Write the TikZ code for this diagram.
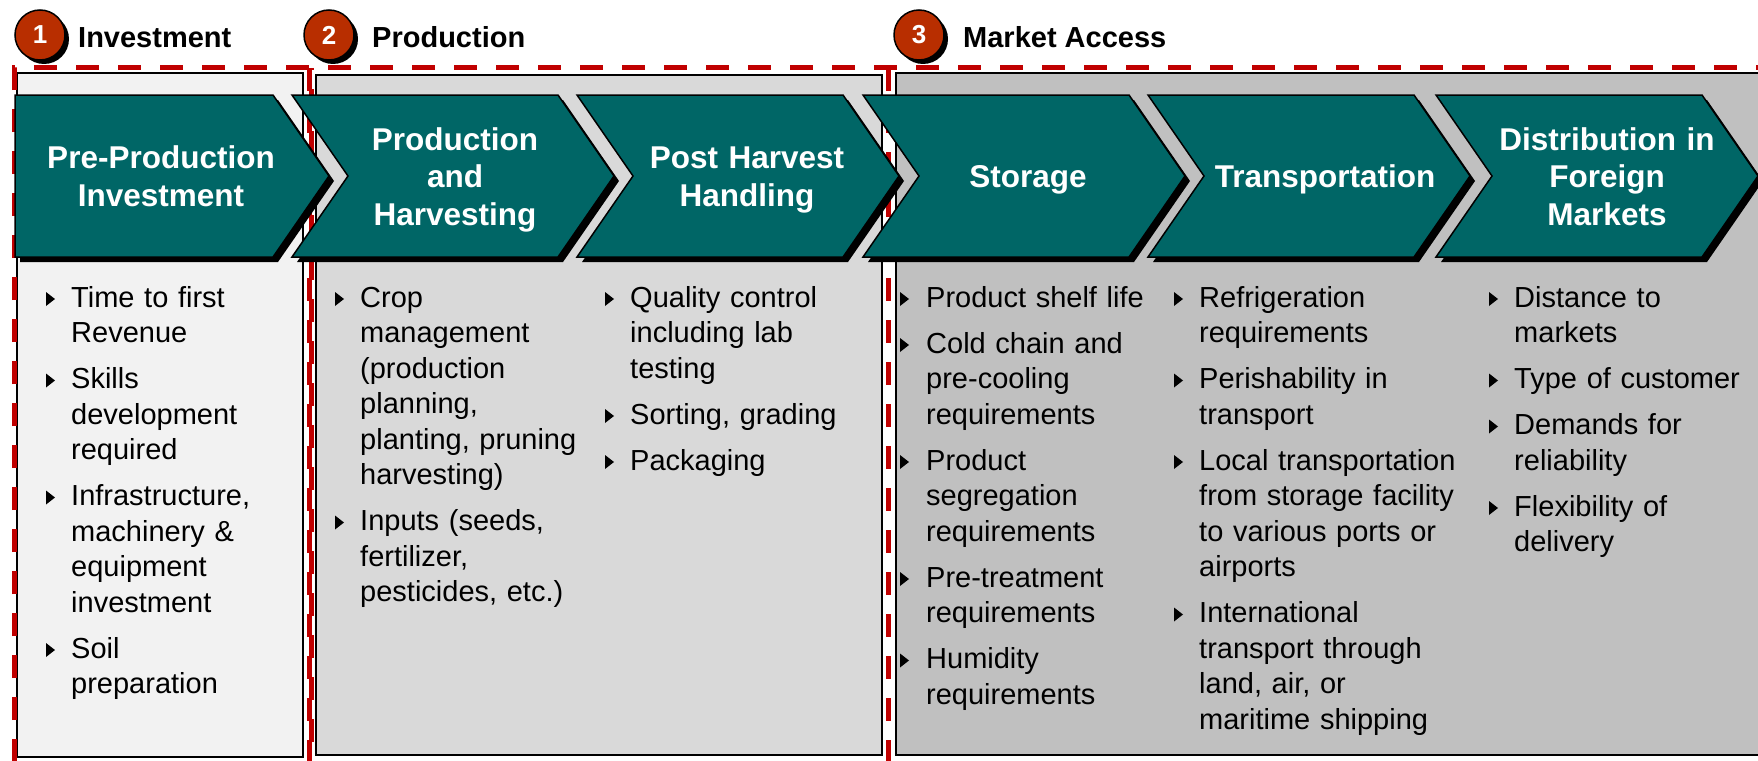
\documentclass[tikz,border=0pt]{standalone}
\usepackage{fontspec}
\setmainfont{Liberation Sans}
\usetikzlibrary{positioning}

\definecolor{chevteal}{RGB}{0,102,102}
\definecolor{badgered}{RGB}{184,46,0}
\definecolor{framered}{RGB}{192,0,0}
\definecolor{boxone}{RGB}{242,242,242}
\definecolor{boxtwo}{RGB}{217,217,217}
\definecolor{boxthree}{RGB}{192,192,192}

\tikzset{
  stagebox/.style={draw=black, line width=2pt},
  redframe/.style={draw=framered, line width=5pt, dash pattern=on 23pt off 19pt},
  chevron/.style={fill=chevteal, draw=black, line width=1.5pt, line join=miter},
  chevtext/.style={text=white, font=\bfseries\fontsize{31.5}{37.5}\selectfont,
    align=center, text width=260pt, inner sep=0pt, anchor=base},
  listtext/.style={font=\fontsize{29}{35.5}\selectfont, align=left,
    text width=280pt, inner sep=0pt, anchor=base west},
  badge/.style={circle, fill=badgered, draw=black, line width=1.5pt,
    minimum size=50pt, inner sep=0pt, text=white, font=\bfseries\fontsize{26}{30}\selectfont},
  headtext/.style={font=\bfseries\fontsize{29}{34}\selectfont, anchor=base west, inner sep=0pt},
}

\begin{document}
\begin{tikzpicture}[x=1pt, y=-1pt]
  \useasboundingbox (0,0) rectangle (1758,760);
  \clip (0,0) rectangle (1758,760);

  % stage panels
  \filldraw[stagebox, fill=boxone] (17,73) rectangle (303,757);
  \filldraw[stagebox, fill=boxtwo] (316,75) rectangle (882,755);
  \filldraw[stagebox, fill=boxthree] (896,73) rectangle (1775,755);

  % dashed red frames
  \draw[redframe] (14,762) -- (14,68) -- (1775,68);
  \draw[redframe] (309,68) -- (309,762);
  \draw[redframe, dash phase=21pt] (311.5,68) -- (311.5,762);
  \draw[redframe] (888,68) -- (888,762);
  \draw[redframe] (14,763) -- (1775,763);

  % chevrons
  \fill[black] (20,100) -- (278,100) -- (334,181) -- (278,262) -- (20,262) -- cycle;
  \draw[chevron] (15,95) -- (273,95) -- (329,176) -- (273,257) -- (15,257) -- cycle;
  \foreach \x in {292,577,863,1148,1436}{
    \fill[black] (\x+5,100) -- ++(266,0) -- ++(56,81) -- ++(-56,81) -- ++(-266,0) -- ++(56,-81) -- cycle;
    \draw[chevron] (\x,95) -- ++(266,0) -- ++(56,81) -- ++(-56,81) -- ++(-266,0) -- ++(56,-81) -- cycle;
  }

  \node[chevtext] (preinv) at (161,168.75) {Pre-Production\\Investment};
  \node[chevtext] (prodharv) at (455,150) {Production\\and\\Harvesting};
  \node[chevtext] (postharv) at (747,168.75) {Post Harvest\\Handling};
  \node[chevtext] (storage) at (1028,187.5) {Storage};
  \node[chevtext] (transport) at (1325,187.5) {Transportation};
  \node[chevtext] (distrib) at (1607,150) {Distribution in\\Foreign\\Markets};

  % badges and headings
  \foreach \bx in {40,329,919}
    \fill[black] (\bx+4,39) circle (25pt);
  \node[badge] (b1) at (40,35) {1};
  \node[badge] (b2) at (329,35) {2};
  \node[badge] (b3) at (919,35) {3};
  \node[headtext] (h1) at (78,48) {Investment};
  \node[headtext] (h2) at (372,48) {Production};
  \node[headtext] (h3) at (963,48) {Market Access};

  % bullet lists
  \node[listtext] (l1) at (71,307) {Time to first\\Revenue\\[10.5pt]
    Skills\\development\\required\\[10.5pt]
    Infrastructure,\\machinery \&\\equipment\\investment\\[10.5pt]
    Soil\\preparation};
  \node[listtext] (l2) at (360,307) {Crop\\management\\(production\\planning,\\planting, pruning\\harvesting)\\[10.5pt]
    Inputs (seeds,\\fertilizer,\\pesticides, etc.)};
  \node[listtext] (l3) at (630,307) {Quality control\\including lab\\testing\\[10.5pt]
    Sorting, grading\\[10.5pt]
    Packaging};
  \node[listtext] (l4) at (926,307) {Product shelf life\\[10.5pt]
    Cold chain and\\pre-cooling\\requirements\\[10.5pt]
    Product\\segregation\\requirements\\[10.5pt]
    Pre-treatment\\requirements\\[10.5pt]
    Humidity\\requirements};
  \node[listtext] (l5) at (1199,307) {Refrigeration\\requirements\\[10.5pt]
    Perishability in\\transport\\[10.5pt]
    Local transportation\\from storage facility\\to various ports or\\airports\\[10.5pt]
    International\\transport through\\land, air, or\\maritime shipping};
  \node[listtext] (l6) at (1514,307) {Distance to\\markets\\[10.5pt]
    Type of customer\\[10.5pt]
    Demands for\\reliability\\[10.5pt]
    Flexibility of\\delivery};

  % bullet marks: column x / line / item
  \foreach \bx/\L/\k in {46/0/0, 46/2/1, 46/5/2, 46/9/3,
                         335/0/0, 335/6/1,
                         605/0/0, 605/3/1, 605/4/2,
                         900/0/0, 900/1/1, 900/4/2, 900/7/3, 900/9/4,
                         1174/0/0, 1174/2/1, 1174/4/2, 1174/8/3,
                         1489/0/0, 1489/2/1, 1489/3/2, 1489/5/3}
    \fill (\bx,307+35.5*\L+10.5*\k-15) -- ++(0,14) -- ++(9,-7) -- cycle;
\end{tikzpicture}
\end{document}
